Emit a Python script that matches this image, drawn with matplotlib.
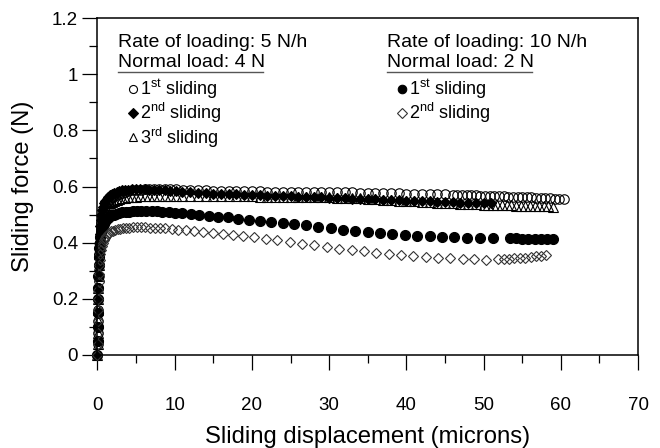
import numpy as np
import matplotlib
matplotlib.use("Agg")
import matplotlib.pyplot as plt
from matplotlib.ticker import MultipleLocator, FuncFormatter

plt.rcParams["font.family"] = ["Liberation Sans", "DejaVu Sans"]
plt.rcParams["mathtext.fontset"] = "custom"
plt.rcParams["mathtext.rm"] = "Liberation Sans"
plt.rcParams["mathtext.default"] = "regular"

# 5 N/h, normal load 4 N - 1st sliding (open circles)
a_x = [0, 0.02, 0.04, 0.06, 0.08, 0.1, 0.13, 0.16, 0.2, 0.24, 0.29, 0.35, 0.42, 0.5, 0.6,
       0.72, 0.86, 1.0, 1.2, 1.4, 1.65, 1.9, 2.2, 2.5, 2.85, 3.2, 3.6, 4.0, 4.5, 5.0, 5.5,
       6.1, 6.7, 7.3, 8.0, 8.7, 9.4, 10.2,
       11.1, 12, 13, 14, 15, 16, 17, 18, 19, 20, 21, 22, 23, 24, 25, 26, 27, 28, 29, 30,
       31, 32, 33, 34, 35, 36, 37, 38, 39, 40, 41, 42, 43, 44, 45, 46,
       46.6, 47.2, 47.8, 48.4, 49.0, 49.6, 50.2, 50.8, 51.4, 52.0, 52.6, 53.2, 53.8, 54.4,
       55.0, 55.6, 56.2, 56.8, 57.4, 58.0, 58.6, 59.2, 59.8, 60.4]
a_y = [0, 0.04, 0.08, 0.12, 0.16, 0.2, 0.24, 0.28, 0.32, 0.36, 0.39, 0.42, 0.45, 0.47, 0.49,
       0.505, 0.52, 0.53, 0.54, 0.548, 0.555, 0.561, 0.567, 0.571, 0.575, 0.578, 0.581, 0.584,
       0.586, 0.588, 0.589, 0.59, 0.591, 0.591, 0.591, 0.591, 0.59, 0.59,
       0.589, 0.588, 0.587, 0.586, 0.585, 0.585, 0.584, 0.584, 0.583, 0.583, 0.583, 0.582,
       0.582, 0.582, 0.582, 0.581, 0.581, 0.581, 0.580, 0.580, 0.580, 0.579, 0.579, 0.578,
       0.578, 0.577, 0.577, 0.576, 0.576, 0.575, 0.575, 0.574, 0.573, 0.573, 0.572, 0.571,
       0.571, 0.570, 0.570, 0.569, 0.569, 0.568, 0.567, 0.567, 0.566, 0.565, 0.565, 0.564,
       0.563, 0.563, 0.562, 0.561, 0.561, 0.560, 0.559, 0.559, 0.558, 0.557, 0.557, 0.556]

# 5 N/h - 2nd sliding (filled diamonds)
b_x = [0, 0.02, 0.04, 0.06, 0.08, 0.1, 0.13, 0.16, 0.2, 0.24, 0.29, 0.35, 0.42, 0.5, 0.6,
       0.72, 0.86, 1.0, 1.2, 1.4, 1.65, 1.9, 2.2, 2.5, 2.85, 3.2, 3.6, 4.0, 4.5, 5.0, 5.5,
       6.1, 6.7, 7.3, 8.0, 8.7, 9.4, 10.2,
       11, 12, 13, 14, 15, 16, 17, 18, 19, 20, 21, 22, 23, 24, 25, 26, 27, 28, 29, 30,
       31, 32, 33, 34, 35, 36, 37, 38, 39, 40, 41, 42, 43, 44, 45, 46, 47, 48, 49, 50, 51]
b_y = [0, 0.05, 0.1, 0.15, 0.2, 0.24, 0.28, 0.32, 0.36, 0.4, 0.43, 0.46, 0.48, 0.5, 0.515,
       0.528, 0.54, 0.548, 0.556, 0.563, 0.569, 0.574, 0.578, 0.581, 0.584, 0.586, 0.588,
       0.589, 0.59, 0.59, 0.59, 0.59, 0.589, 0.588, 0.587, 0.586, 0.585, 0.583,
       0.582, 0.580, 0.578, 0.576, 0.575, 0.574, 0.573, 0.572, 0.571, 0.570, 0.569, 0.568,
       0.567, 0.566, 0.565, 0.564, 0.563, 0.562, 0.561, 0.560, 0.559, 0.558, 0.557, 0.556,
       0.555, 0.554, 0.553, 0.552, 0.551, 0.550, 0.549, 0.548, 0.547, 0.546, 0.545, 0.544,
       0.543, 0.542, 0.541, 0.540, 0.540]

# 5 N/h - 3rd sliding (open triangles)
c_x = [0, 0.02, 0.04, 0.06, 0.08, 0.1, 0.13, 0.16, 0.2, 0.24, 0.29, 0.35, 0.42, 0.5, 0.6,
       0.72, 0.86, 1.0, 1.2, 1.4, 1.65, 1.9, 2.2, 2.5, 2.85, 3.2, 3.6, 4.0, 4.5, 5.0, 5.5,
       6.1, 6.7, 7.3, 8.0, 8.7, 9.4, 10.2,
       11, 12, 13, 14, 15, 16, 17, 18, 19, 20, 21, 22, 23, 24, 25, 26, 27, 28, 29, 30,
       31, 32, 33, 34, 35, 36, 37, 38, 39, 40, 41, 42, 43, 44, 45, 46, 47, 48, 49, 50,
       50.6, 51.2, 51.8, 52.4, 53.0, 53.6, 54.2, 54.8, 55.4, 56.0, 56.6, 57.2, 57.8, 58.4, 59.0]
c_y = [0, 0.04, 0.08, 0.12, 0.16, 0.2, 0.24, 0.28, 0.32, 0.36, 0.39, 0.42, 0.445, 0.465,
       0.482, 0.496, 0.508, 0.518, 0.527, 0.534, 0.54, 0.545, 0.55, 0.553, 0.556, 0.558,
       0.56, 0.562, 0.563, 0.564, 0.565, 0.566, 0.566, 0.567, 0.567, 0.567, 0.567, 0.567,
       0.567, 0.567, 0.566, 0.566, 0.566, 0.566, 0.565, 0.565, 0.565, 0.565, 0.564, 0.564,
       0.564, 0.563, 0.563, 0.563, 0.562, 0.562, 0.561, 0.561, 0.560, 0.559, 0.558, 0.558,
       0.557, 0.554, 0.553, 0.551, 0.550, 0.548, 0.547, 0.545, 0.544, 0.542, 0.541, 0.540,
       0.539, 0.538, 0.537, 0.536,
       0.535, 0.535, 0.534, 0.534, 0.533, 0.533, 0.532, 0.532, 0.531, 0.531, 0.530, 0.530,
       0.529, 0.529, 0.528]

# 10 N/h, normal load 2 N - 1st sliding (filled circles)
d_x = [0, 0.02, 0.04, 0.06, 0.08, 0.1, 0.13, 0.16, 0.2, 0.25, 0.3, 0.37, 0.45, 0.55, 0.67,
       0.8, 0.95, 1.1, 1.3, 1.55, 1.8, 2.1, 2.45, 2.8, 3.2, 3.65, 4.1, 4.6, 5.1, 5.7, 6.3,
       7.0, 7.7, 8.4, 9.2, 10.0,
       11.0, 12.1, 13.2, 14.4, 15.6, 16.9, 18.2, 19.6, 21.0, 22.5, 24.0, 25.5, 27.0, 28.6,
       30.2, 31.8, 33.4, 35.0, 36.6, 38.2, 39.8, 41.4, 43.0, 44.6, 46.2, 47.8, 49.5, 51.2,
       53.4, 54.2, 55.0, 55.8, 56.6, 57.4, 58.2, 59.0]
d_y = [0, 0.05, 0.1, 0.15, 0.2, 0.24, 0.28, 0.32, 0.35, 0.38, 0.4, 0.42, 0.437, 0.45, 0.46,
       0.468, 0.476, 0.482, 0.488, 0.493, 0.497, 0.5, 0.503, 0.506, 0.508, 0.51, 0.511,
       0.512, 0.513, 0.513, 0.513, 0.513, 0.512, 0.511, 0.509, 0.507,
       0.505, 0.502, 0.499, 0.496, 0.493, 0.490, 0.486, 0.482, 0.479, 0.475, 0.471, 0.467,
       0.462, 0.457, 0.452, 0.446, 0.441, 0.437, 0.433, 0.430, 0.427, 0.425, 0.423, 0.421,
       0.420, 0.418, 0.417, 0.416,
       0.415, 0.415, 0.414, 0.414, 0.414, 0.413, 0.413, 0.413]

# 10 N/h - 2nd sliding (open diamonds)
e_x = [0, 0.02, 0.04, 0.06, 0.08, 0.1, 0.13, 0.16, 0.2, 0.25, 0.3, 0.37, 0.45, 0.55, 0.67,
       0.8, 0.95, 1.1, 1.3, 1.5, 1.75, 2.0, 2.3, 2.6, 2.95, 3.3, 3.7, 4.1, 4.6, 5.1, 5.6,
       6.2, 6.8, 7.4, 8.1, 8.8, 9.6, 10.4,
       11.4, 12.5, 13.7, 14.9, 16.2, 17.5, 18.9, 20.3, 21.8, 23.3, 24.9, 26.5, 28.1, 29.7,
       31.3, 32.9, 34.5, 36.1, 37.7, 39.3, 40.9, 42.5, 44.1, 45.7, 47.3, 48.8, 50.3,
       51.9, 52.6, 53.3, 54.0, 54.7, 55.4, 56.1, 56.8, 57.5, 58.1]
e_y = [0, 0.04, 0.08, 0.12, 0.16, 0.2, 0.23, 0.26, 0.29, 0.32, 0.34, 0.36, 0.375, 0.39, 0.4,
       0.41, 0.418, 0.425, 0.43, 0.435, 0.44, 0.443, 0.446, 0.448, 0.45, 0.452, 0.453, 0.454,
       0.455, 0.455, 0.455, 0.455, 0.454, 0.453, 0.452, 0.451, 0.449, 0.447,
       0.445, 0.442, 0.439, 0.435, 0.431, 0.427, 0.423, 0.419, 0.414, 0.409, 0.403, 0.397,
       0.391, 0.385, 0.379, 0.374, 0.369, 0.364, 0.360, 0.356, 0.352, 0.349, 0.346, 0.344,
       0.342, 0.341, 0.340,
       0.341, 0.342, 0.343, 0.344, 0.345, 0.347, 0.349, 0.351, 0.354, 0.357]

labels_5 = ["1$^{st}$ sliding", "2$^{nd}$ sliding", "3$^{rd}$ sliding"]
labels_10 = ["1$^{st}$ sliding", "2$^{nd}$ sliding"]

fig = plt.figure(figsize=(6.6, 4.48), dpi=100)
ax = fig.add_axes([0.1477, 0.2076, 0.819, 0.752])

kw = dict(linestyle="none", clip_on=False, markeredgewidth=0.8)
la, = ax.plot(a_x, a_y, marker="o", ms=6.8, mfc="none", mec="black", **kw)
lb, = ax.plot(b_x, b_y, marker="D", ms=5.4, mfc="black", mec="black", **kw)
lc, = ax.plot(c_x, c_y, marker="^", ms=6.8, mfc="none", mec="black", **kw)
ld, = ax.plot(d_x, d_y, marker="o", ms=7.2, mfc="black", mec="black", **kw)
le, = ax.plot(e_x, e_y, marker="D", ms=5.4, mfc="none", mec="#333333", **kw)

ax.set_xlim(0, 70)
ax.set_ylim(0, 1.2)
ax.xaxis.set_major_locator(MultipleLocator(10))
ax.xaxis.set_minor_locator(MultipleLocator(5))
ax.yaxis.set_major_locator(MultipleLocator(0.2))
ax.yaxis.set_minor_locator(MultipleLocator(0.1))
ax.yaxis.set_major_formatter(FuncFormatter(lambda v, p: f"{v:g}"))
ax.tick_params(which="major", direction="out", length=11, width=0.9, labelsize=13.5)
ax.tick_params(which="minor", direction="out", length=6, width=0.9)
ax.tick_params(axis="x", which="major", pad=19)
ax.tick_params(axis="y", which="major", pad=3)
for s in ax.spines.values():
    s.set_linewidth(1.1)

ax.set_xlabel("Sliding displacement (microns)", fontsize=17.2, labelpad=9)
ax.set_ylabel("Sliding force (N)", fontsize=17.2, labelpad=13)

# annotation blocks
fs = 14
ax.text(0.038, 0.915, "Rate of loading: 5 N/h", transform=ax.transAxes, fontsize=fs, va="baseline")
ax.text(0.038, 0.856, "Normal load: 4 N", transform=ax.transAxes, fontsize=fs, va="baseline")
ax.plot([0.038, 0.306], [0.839, 0.839], transform=ax.transAxes, color="#555555", lw=1.0)
ax.text(0.5356, 0.915, "Rate of loading: 10 N/h", transform=ax.transAxes, fontsize=fs, va="baseline")
ax.text(0.5356, 0.856, "Normal load: 2 N", transform=ax.transAxes, fontsize=fs, va="baseline")
ax.plot([0.5356, 0.804], [0.8407, 0.8407], transform=ax.transAxes, color="#555555", lw=1.0)

leg_kw = dict(loc="upper left", frameon=False, fontsize=13, handlelength=0.5,
              handletextpad=0.12, borderpad=0, borderaxespad=0, labelspacing=0.0,
              markerscale=0.85)
leg1 = ax.legend([la, lb, lc], labels_5, bbox_to_anchor=(0.0574, 0.823), **leg_kw)
ax.add_artist(leg1)
ax.legend([ld, le], labels_10, bbox_to_anchor=(0.555, 0.823), **leg_kw)

fig.savefig("out.png", dpi=100)
